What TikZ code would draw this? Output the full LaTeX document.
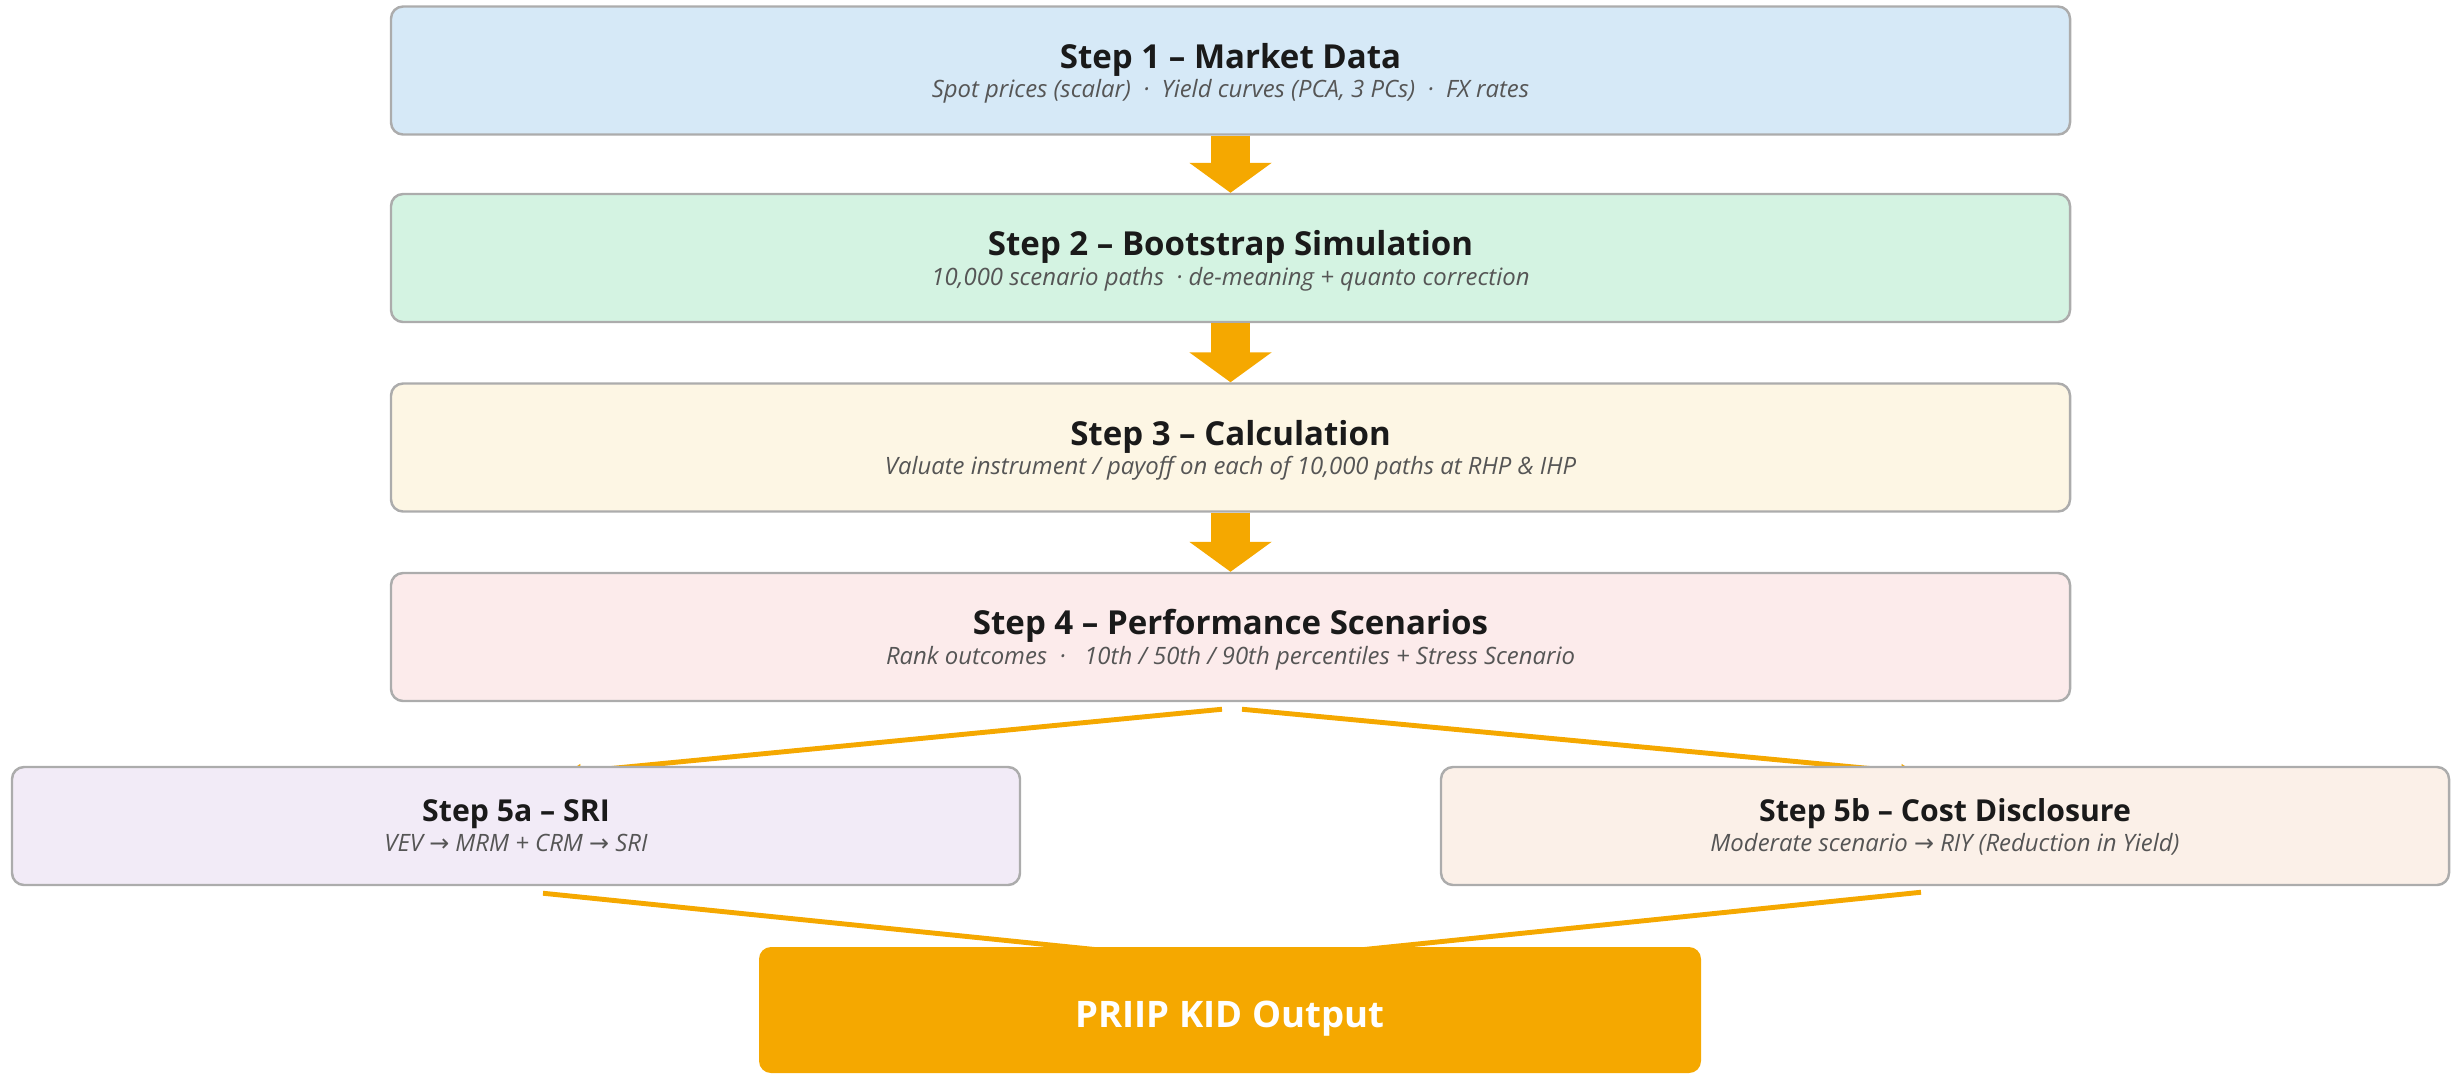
\documentclass[tikz,border=0pt]{standalone}
\usepackage{fontspec}
\setmainfont{Open Sans}
\newfontfamily\arrowfont{DejaVu Sans}
\usetikzlibrary{positioning}
\usetikzlibrary{arrows.meta}
\usetikzlibrary{calc}

\pgfdeclarelayer{background}
\pgfsetlayers{background,main}

\definecolor{kidorange}{RGB}{245,168,0}
\definecolor{boxgray}{RGB}{172,172,172}
\definecolor{titlecol}{RGB}{26,26,26}
\definecolor{subcol}{RGB}{85,85,85}
\definecolor{fillone}{RGB}{214,233,247}
\definecolor{filltwo}{RGB}{212,243,226}
\definecolor{fillthree}{RGB}{253,246,228}
\definecolor{fillfour}{RGB}{252,235,235}
\definecolor{fillsri}{RGB}{242,235,247}
\definecolor{fillcost}{RGB}{251,240,232}

\newcommand{\steptitle}[1]{{\fontsize{9.4}{11}\selectfont\bfseries\color{titlecol}\rule{0pt}{9.1pt}#1}}
\newcommand{\sidetitle}[1]{{\fontsize{8.6}{10}\selectfont\bfseries\color{titlecol}\rule{0pt}{8.2pt}#1}}
\newcommand{\stepsub}[1]{{\fontsize{6.8}{8.5}\selectfont\itshape\color{subcol}#1\rule[-2pt]{0pt}{2pt}}}
\newcommand{\rarr}{{\arrowfont →}}

\begin{document}
\begin{tikzpicture}[
  stepbox/.style={draw=boxgray, line width=0.7pt, rounded corners=0.12cm,
    minimum width=16.79cm, minimum height=1.28cm, align=center, inner sep=0pt,
    font=\fontsize{6.8}{8.5}\selectfont},
  sidebox/.style={stepbox, minimum width=10.08cm, minimum height=1.18cm},
  outbox/.style={fill=kidorange, rounded corners=0.12cm, minimum width=9.42cm,
    minimum height=1.26cm, text=white, text height=9.7pt, text depth=0pt,
    font=\fontsize{10.4}{12}\selectfont\bfseries},
  flow/.style={draw=kidorange, line width=0.39cm, -{Triangle[width=0.81cm,length=0.30cm]}},
  link/.style={draw=kidorange, line width=1.4pt, -{Triangle[width=4pt,length=4pt]}}
]
  \useasboundingbox (0,0) rectangle (24.53,-10.73);

  % main chain of steps
  \node[stepbox, fill=fillone] (s1) at (12.305,-0.705)
    {\steptitle{Step 1 – Market Data}\\\stepsub{Spot prices (scalar) \ · \ Yield curves (PCA, 3 PCs) \ · \ FX rates}};
  \node[stepbox, fill=filltwo] (s2) at (12.305,-2.58)
    {\steptitle{Step 2 – Bootstrap Simulation}\\\stepsub{10,000 scenario paths \ · de-meaning + quanto correction}};
  \node[stepbox, fill=fillthree] (s3) at (12.305,-4.475)
    {\steptitle{Step 3 – Calculation}\\\stepsub{Valuate instrument / payoff on each of 10,000 paths at RHP \& IHP}};
  \node[stepbox, fill=fillfour] (s4) at (12.305,-6.37)
    {\steptitle{Step 4 – Performance Scenarios}\\\stepsub{Rank outcomes \ · \ \ 10th / 50th / 90th percentiles + Stress Scenario}};

  % the two outputs of step 4
  \node[sidebox, fill=fillsri] (s5a) at (5.16,-8.26)
    {\sidetitle{Step 5a – SRI}\\\stepsub{VEV \rarr\ MRM + CRM \rarr\ SRI}};
  \node[sidebox, fill=fillcost] (s5b) at (19.45,-8.26)
    {\sidetitle{Step 5b – Cost Disclosure}\\\stepsub{Moderate scenario \rarr\ RIY (Reduction in Yield)}};

  \node[outbox] (out) at (12.30,-10.10) {PRIIP KID Output};

  % thick arrows
  \draw[flow] (s1.south) -- (s2.north);
  \draw[flow] (s2.south) -- (s3.north);
  \draw[flow] (s3.south) -- (s4.north);

  % thin links, behind the boxes
  \begin{pgfonlayer}{background}
    \draw[link] ($(s4.south)+(-0.085,-0.07)$) -- ($(s5a.north)+(0.51,-0.07)$);
    \draw[link] ($(s4.south)+(0.115,-0.07)$) -- ($(s5b.north)+(-0.30,-0.07)$);
    \draw[link] ($(s5a.south)+(0.27,-0.07)$) -- ($(out.north)+(0,-0.17)$);
    \draw[link] ($(s5b.south)+(-0.24,-0.06)$) -- ($(out.north)+(0,-0.17)$);
  \end{pgfonlayer}
\end{tikzpicture}
\end{document}
